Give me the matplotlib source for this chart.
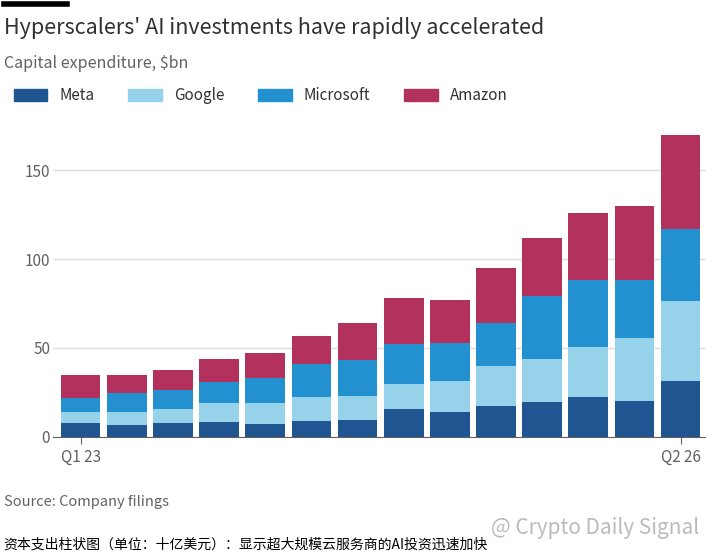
import numpy as np
import matplotlib.pyplot as plt

plt.rcParams['font.family'] = ['Noto Sans CJK SC', 'DejaVu Sans']

quarters = ['Q1 23', 'Q2 23', 'Q3 23', 'Q4 23', 'Q1 24', 'Q2 24', 'Q3 24', 'Q4 24',
            'Q1 25', 'Q2 25', 'Q3 25', 'Q4 25', 'Q1 26', 'Q2 26']
meta = [7.9, 6.7, 7.9, 8.4, 7.3, 9.0, 9.6, 15.7, 14.0, 17.4, 19.7, 22.5, 20.0, 31.5]
google = [6.1, 7.3, 7.8, 10.6, 11.7, 13.5, 13.4, 14.1, 17.5, 22.6, 24.3, 28.1, 35.6, 44.9]
microsoft = [8.0, 10.7, 10.7, 12.0, 14.0, 18.5, 20.0, 22.2, 21.5, 24.0, 35.0, 37.4, 32.4, 40.6]
amazon = [13.0, 10.3, 11.2, 13.0, 14.0, 16.0, 21.0, 26.0, 24.0, 31.0, 33.0, 38.0, 42.0, 53.0]

series = [('Meta', meta, '#1f5591'), ('Google', google, '#96d3ea'),
          ('Microsoft', microsoft, '#2390d0'), ('Amazon', amazon, '#b3325d')]
txt = '#33302e'

fig = plt.figure(figsize=(7.06, 5.53), dpi=100)
ax = fig.add_axes([0.075, 0.21, 0.925, 0.553])
x = np.arange(len(quarters))
bottom = np.zeros(len(quarters))
for name, vals, col in series:
    ax.bar(x, vals, 0.86, bottom=bottom, color=col, label=name)
    bottom += np.array(vals)

ax.set_ylim(0, 172)
ax.set_xlim(-0.6, 13.55)
ax.set_yticks([0, 50, 100, 150])
ax.grid(axis='y', color='#e0dcd8', lw=1)
ax.set_axisbelow(True)
for s in ['top', 'right', 'left']:
    ax.spines[s].set_visible(False)
ax.spines['bottom'].set_color('#66605c')
ax.tick_params(axis='y', length=0, labelsize=11, colors='#66605c', pad=2)
ax.set_xticks([0, 13])
ax.set_xticklabels([quarters[0], quarters[-1]])
ax.tick_params(axis='x', labelsize=11, colors='#66605c', length=5)

fig.add_artist(plt.Line2D([0.005, 0.095], [0.993, 0.993], color='black', lw=4))
fig.text(0.005, 0.95, "Hyperscalers' AI investments have rapidly accelerated",
         fontsize=15.5, color=txt, va='center')
fig.text(0.005, 0.885, 'Capital expenditure, $bn', fontsize=11.5, color='#66605c', va='center')
handles = [plt.Rectangle((0, 0), 1, 1, color=c) for _, _, c in series]
fig.legend(handles, [n for n, _, _ in series], loc='center left', ncol=4,
           bbox_to_anchor=(0.0, 0.827), frameon=False, fontsize=11,
           handlelength=2.2, handleheight=0.9, columnspacing=2.2, labelcolor='#33302e')
fig.text(0.005, 0.092, 'Source: Company filings', fontsize=10.5, color='#66605c', va='center')
fig.text(0.005, 0.015, '资本支出柱状图（单位：十亿美元）：显示超大规模云服务商的AI投资迅速加快',
         fontsize=10, color='black', va='center')
fig.text(0.99, 0.045, '@ Crypto Daily Signal', fontsize=15, color='#aaaaaa',
         ha='right', va='center', alpha=0.8)
fig.savefig('out.png', dpi=100, facecolor='white')
